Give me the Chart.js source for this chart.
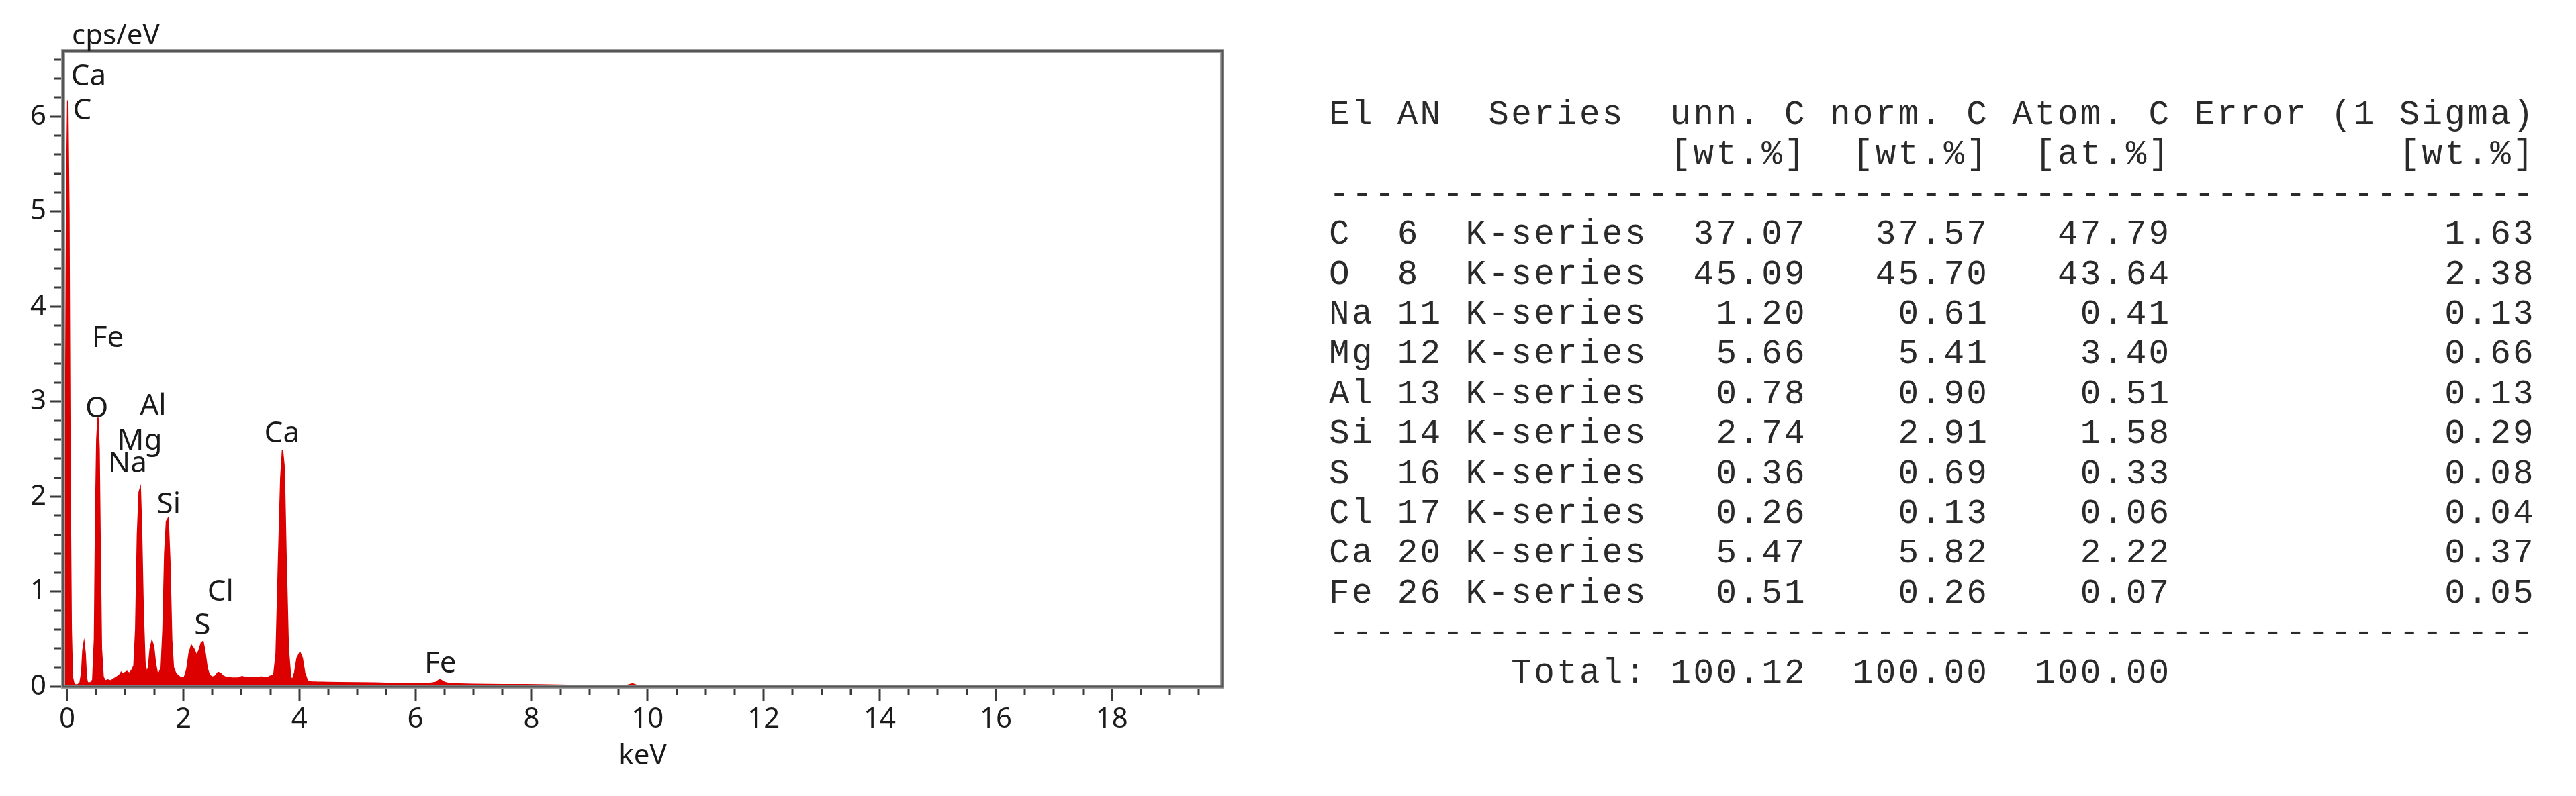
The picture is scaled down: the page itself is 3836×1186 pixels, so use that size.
<!DOCTYPE html>
<html lang="en">

<head>
    <meta charset="UTF-8">
    <title>EDS spectrum</title>
    <script src="https://cdn.jsdelivr.net/npm/chart.js"></script>
    <style>
        body { margin: 0; background: #fff; width: 3836px; height: 1186px; overflow: hidden; }
        #chart-box { position: absolute; left: 0; top: 0; width: 1900px; height: 1186px; }
        #quant {
            position: absolute; left: 1979px; top: 142px; margin: 0;
            font-family: "Liberation Mono", "DejaVu Sans Mono", monospace;
            font-size: 51px; letter-spacing: 3.3px; line-height: 59.4px; color: #2a2a2a;
        }
    </style>
</head>

<body>
    <div id="chart-box"><canvas id="spectrum"></canvas></div>
    <pre id="quant"></pre>

    <script>
        // spectrum (keV, cps/eV)
        const spectrumKeV = [
            -0.07, -0.05, -0.03, -0.01, 0.01, 0.03, 0.05, 0.07, 0.09, 0.12, 0.18, 0.22, 0.25, 0.27, 0.29, 0.31, 0.33, 0.35,
            0.40, 0.44, 0.47, 0.49, 0.51, 0.53, 0.55, 0.57, 0.59, 0.62, 0.66, 0.70, 0.75, 0.80, 0.85, 0.90, 0.93, 0.96,
            1.00, 1.03, 1.07, 1.11, 1.15, 1.18, 1.21, 1.24, 1.26, 1.28, 1.31, 1.34, 1.37, 1.40, 1.43, 1.46, 1.49, 1.52,
            1.55, 1.58, 1.62, 1.65, 1.68, 1.71, 1.74, 1.77, 1.80, 1.83, 1.87, 1.92, 1.97, 2.02, 2.06, 2.10, 2.14, 2.18,
            2.23, 2.27, 2.31, 2.34, 2.37, 2.41, 2.45, 2.50, 2.55, 2.60, 2.64, 2.69, 2.75, 2.85, 2.95, 3.01, 3.08, 3.20,
            3.35, 3.45, 3.50, 3.56, 3.60, 3.64, 3.68, 3.71, 3.74, 3.77, 3.81, 3.85, 3.88, 3.92, 3.96, 4.01, 4.05, 4.09,
            4.14, 4.20, 4.30, 4.50, 4.70, 5.00, 5.30, 5.60, 5.96, 6.20, 6.35, 6.42, 6.50, 6.60, 7.00, 7.50, 7.90, 8.30,
            8.80, 9.30, 9.65, 9.74, 9.82, 10.40, 10.60, 11.35, 11.40, 11.70, 11.75, 19.90
        ];
        const spectrumCps = [
            0.00, 0.60, 2.50, 5.20, 6.17, 5.00, 2.20, 0.60, 0.10, 0.02, 0.02, 0.04, 0.15, 0.38, 0.46, 0.35, 0.10, 0.04,
            0.04, 0.07, 0.50, 1.80, 2.60, 2.83, 2.50, 1.40, 0.40, 0.10, 0.06, 0.07, 0.06, 0.08, 0.10, 0.12, 0.15, 0.13,
            0.15, 0.16, 0.14, 0.17, 0.22, 0.60, 1.60, 2.05, 2.09, 1.70, 0.80, 0.25, 0.15, 0.20, 0.40, 0.48, 0.42, 0.25,
            0.15, 0.14, 0.20, 0.60, 1.40, 1.74, 1.77, 1.30, 0.50, 0.20, 0.14, 0.11, 0.09, 0.10, 0.18, 0.35, 0.435, 0.40,
            0.33, 0.38, 0.46, 0.475, 0.38, 0.20, 0.12, 0.10, 0.11, 0.15, 0.14, 0.11, 0.095, 0.09, 0.09, 0.105, 0.095, 0.095,
            0.10, 0.095, 0.11, 0.12, 0.35, 1.30, 2.20, 2.49, 2.30, 1.40, 0.40, 0.10, 0.07, 0.15, 0.30, 0.36, 0.30, 0.15,
            0.06, 0.05, 0.047, 0.045, 0.042, 0.04, 0.038, 0.034, 0.028, 0.03, 0.045, 0.074, 0.045, 0.03, 0.025, 0.022, 0.021, 0.017,
            0.013, 0.012, 0.015, 0.03, 0.012, 0.008, 0.0, 0.0, 0.008, 0.008, 0.0, 0.0
        ];

        // element markers
        const markerNames = ['Ca', 'C', 'Fe', 'O', 'Al', 'Mg', 'Na', 'Si', 'Cl', 'S', 'Ca', 'Fe'];
        const markerKeV = [0.37, 0.26, 0.70, 0.51, 1.48, 1.25, 1.04, 1.75, 2.64, 2.33, 3.70, 6.43];
        const markerCps = [6.42, 6.06, 3.66, 2.92, 2.95, 2.58, 2.34, 1.91, 0.99, 0.64, 2.66, 0.24];

        const xTicks = [0, 2, 4, 6, 8, 10, 12, 14, 16, 18];
        const yTicks = [0, 1, 2, 3, 4, 5, 6];
        const xMin = -0.07, xMax = 19.9, yMax = 6.69;

        // quantification table
        const elements = ['C', 'O', 'Na', 'Mg', 'Al', 'Si', 'S', 'Cl', 'Ca', 'Fe'];
        const atomicNumbers = [6, 8, 11, 12, 13, 14, 16, 17, 20, 26];
        const unnC = [37.07, 45.09, 1.20, 5.66, 0.78, 2.74, 0.36, 0.26, 5.47, 0.51];
        const normC = [37.57, 45.70, 0.61, 5.41, 0.90, 2.91, 0.69, 0.13, 5.82, 0.26];
        const atomC = [47.79, 43.64, 0.41, 3.40, 0.51, 1.58, 0.33, 0.06, 2.22, 0.07];
        const errorSigma = [1.63, 2.38, 0.13, 0.66, 0.13, 0.29, 0.08, 0.04, 0.37, 0.05];
        const totals = [100.12, 100.00, 100.00];

        const fontFamily = '"Noto Sans", "DejaVu Sans", sans-serif';

        const frameAndMarkers = {
            id: 'frameAndMarkers',
            afterDatasetsDraw(chart) {
                const { ctx, chartArea: a, scales: { x, y } } = chart;
                ctx.save();

                // tick marks, long ones at labelled values
                ctx.strokeStyle = '#3a3a3a';
                ctx.lineWidth = 3;
                ctx.beginPath();
                for (let i = 0; i * 0.5 <= xMax; i++) {
                    const px = Math.round(x.getPixelForValue(i * 0.5));
                    ctx.moveTo(px, a.bottom);
                    ctx.lineTo(px, a.bottom + (i % 4 === 0 ? 22 : 13));
                }
                for (let i = 0; i * 0.2 <= yMax; i++) {
                    const py = Math.round(y.getPixelForValue(i * 0.2));
                    ctx.moveTo(a.left, py);
                    ctx.lineTo(a.left - (i % 5 === 0 ? 20 : 13), py);
                }
                ctx.stroke();

                // plot frame
                ctx.strokeStyle = '#a0a0a0';
                ctx.lineWidth = 6;
                ctx.strokeRect(a.left, a.top, a.width, a.height);
                ctx.strokeStyle = '#555';
                ctx.lineWidth = 3;
                ctx.strokeRect(a.left, a.top, a.width, a.height);

                // element labels
                ctx.fillStyle = '#1a1a1a';
                ctx.font = '44px ' + fontFamily;
                ctx.textAlign = 'center';
                ctx.textBaseline = 'middle';
                markerNames.forEach((name, i) => {
                    ctx.fillText(name, x.getPixelForValue(markerKeV[i]), y.getPixelForValue(markerCps[i]));
                });

                // unit above the y axis
                ctx.font = '42px ' + fontFamily;
                ctx.textAlign = 'left';
                ctx.fillText('cps/eV', a.left + 13, a.top - 22);
                ctx.restore();
            }
        };

        new Chart(document.getElementById('spectrum'), {
            type: 'line',
            data: {
                datasets: [{
                    data: spectrumKeV.map((k, i) => ({ x: k, y: spectrumCps[i] })),
                    borderColor: '#dc0000',
                    backgroundColor: '#dc0000',
                    borderWidth: 2,
                    pointRadius: 0,
                    tension: 0,
                    fill: 'origin'
                }]
            },
            options: {
                responsive: true,
                maintainAspectRatio: false,
                animation: false,
                layout: { padding: { top: 76, right: 80, left: 0, bottom: 0 } },
                plugins: { legend: { display: false }, tooltip: { enabled: false } },
                scales: {
                    x: {
                        type: 'linear',
                        min: xMin,
                        max: xMax,
                        afterBuildTicks: axis => { axis.ticks = xTicks.map(v => ({ value: v })); },
                        afterFit: axis => { axis.height = 163; },
                        grid: { display: false, drawTicks: false },
                        border: { display: false },
                        ticks: {
                            autoSkip: false, maxRotation: 0, padding: 24,
                            color: '#1a1a1a', font: { family: fontFamily, size: 42 }
                        },
                        title: {
                            display: true, text: 'keV', color: '#1a1a1a',
                            padding: { top: 0, bottom: 34 },
                            font: { family: fontFamily, size: 42 }
                        }
                    },
                    y: {
                        min: 0,
                        max: yMax,
                        afterBuildTicks: axis => { axis.ticks = yTicks.map(v => ({ value: v })); },
                        afterFit: axis => { axis.width = 94; },
                        grid: { display: false, drawTicks: false },
                        border: { display: false },
                        ticks: {
                            padding: 25,
                            color: '#1a1a1a', font: { family: fontFamily, size: 42 }
                        }
                    }
                }
            },
            plugins: [frameAndMarkers]
        });

        // table text, fixed columns like the instrument printout
        const dashes = '-'.repeat(53);
        const lines = [
            'El AN  Series  unn. C norm. C Atom. C Error (1 Sigma)',
            '               [wt.%]  [wt.%]  [at.%]          [wt.%]',
            dashes
        ];
        elements.forEach((el, i) => {
            lines.push(el.padEnd(3) + String(atomicNumbers[i]).padEnd(3) + 'K-series' +
                unnC[i].toFixed(2).padStart(7) + normC[i].toFixed(2).padStart(8) +
                atomC[i].toFixed(2).padStart(8) + errorSigma[i].toFixed(2).padStart(16));
        });
        lines.push(dashes);
        lines.push('        Total:' + totals[0].toFixed(2).padStart(7) +
            totals[1].toFixed(2).padStart(8) + totals[2].toFixed(2).padStart(8));
        document.getElementById('quant').textContent = lines.join('\n');
    </script>
</body>

</html>
